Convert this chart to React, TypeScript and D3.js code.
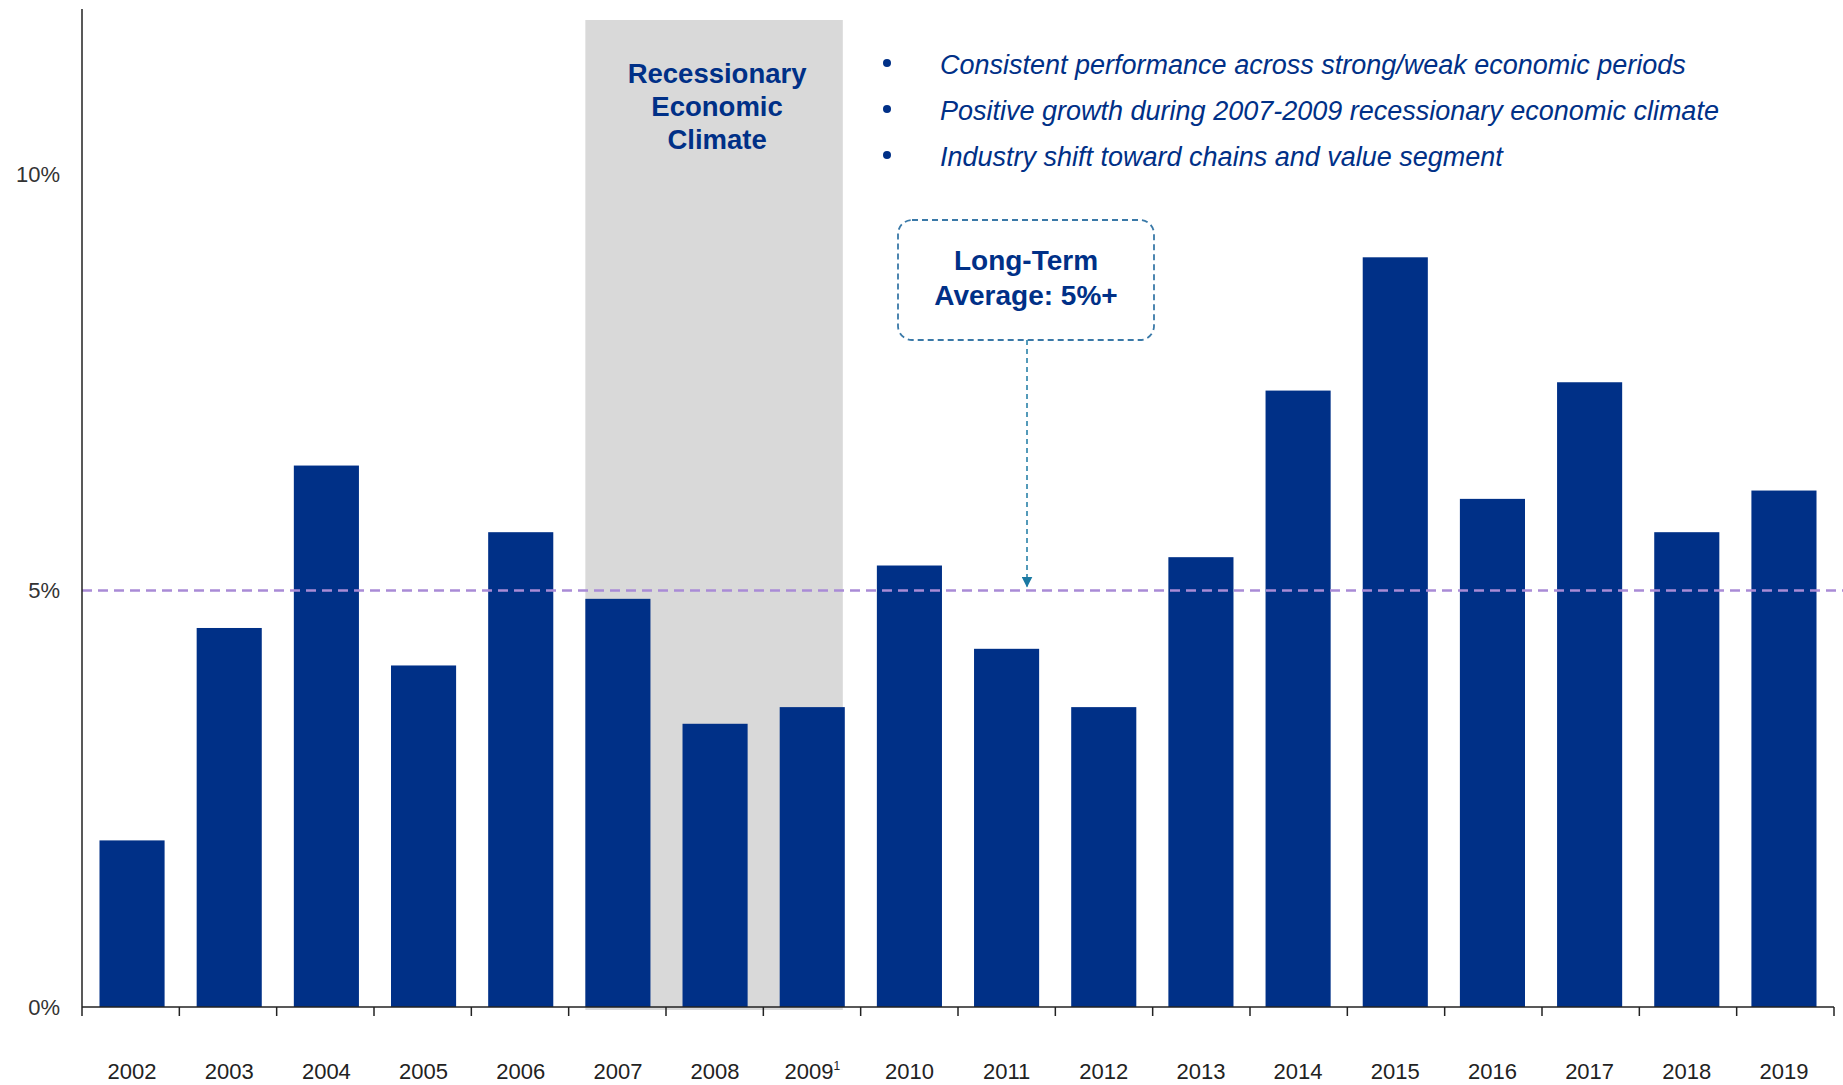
import * as d3 from "d3";

const years = [
  "2002", "2003", "2004", "2005", "2006", "2007", "2008", "2009", "2010",
  "2011", "2012", "2013", "2014", "2015", "2016", "2017", "2018", "2019",
];
const growth = [
  2.0, 4.55, 6.5, 4.1, 5.7, 4.9, 3.4, 3.6, 5.3, 4.3, 3.6, 5.4, 7.4, 9.0, 6.1,
  7.5, 5.7, 6.2,
];
const yTicks = [0, 5, 10];
const average = 5;
const recessionYears = ["2007", "2009"];
const recessionLabel = ["Recessionary", "Economic", "Climate"];
const bullets = [
  "Consistent performance across strong/weak economic periods",
  "Positive growth during 2007-2009 recessionary economic climate",
  "Industry shift toward chains and value segment",
];
const calloutLabel = ["Long-Term", "Average: 5%+"];
const footnoteYear = "2009";

const width = 1843;
const height = 1085;
const margin = { top: 9, right: 9, bottom: 78, left: 82 };

const navy = "#003087";
const narrow = "'Liberation Sans Narrow', 'Arial Narrow', 'Liberation Sans', Arial, sans-serif";
const sans = "'Liberation Sans', Arial, sans-serif";

export default function App() {
  const x = d3
    .scaleBand<string>()
    .domain(years)
    .range([margin.left, width - margin.right])
    .paddingInner(0.33)
    .paddingOuter(0.18);

  const y = d3
    .scaleLinear()
    .domain([0, 10])
    .range([height - margin.bottom, 174]);

  const data = years.map((year, i) => ({ year, value: growth[i] }));
  const step = x.step();
  const x0 = x.range()[0];
  const n = years.length;
  const boundaries = d3
    .range(n + 1)
    .map((i) => x0 + (i * (x.range()[1] - x0)) / n);

  // recession shade covers 2007 bar start to 2009 bar end
  const shadeX1 = x(recessionYears[0])!;
  const shadeX2 = x(recessionYears[1])! + x.bandwidth() - 2;
  const shadeCx = (shadeX1 + shadeX2) / 2;

  const boxX = 898;
  const boxY = 220;
  const boxW = 256;
  const boxH = 120;
  const arrowX = boxX + boxW / 2 + 1;

  return (
    <svg
      width={width}
      height={height}
      style={{ position: "absolute", left: 0, top: 0, background: "#fff" }}
    >
      <defs>
        <marker
          id="arrow"
          viewBox="0 0 10 10"
          refX="9"
          refY="5"
          markerWidth="11"
          markerHeight="11"
          orient="auto"
          markerUnits="userSpaceOnUse"
        >
          <path d="M0,0 L10,5 L0,10 Z" fill="#1b7aa3" />
        </marker>
      </defs>

      {/* recession shading */}
      <rect
        x={shadeX1}
        y={20}
        width={shadeX2 - shadeX1}
        height={y(0) + 3 - 20}
        fill="#d9d9d9"
      />
      {recessionLabel.map((t, i) => (
        <text
          key={t}
          x={shadeCx + 3}
          y={83 + i * 33}
          textAnchor="middle"
          fill={navy}
          fontFamily={sans}
          fontWeight="bold"
          fontSize={27.5}
        >
          {t}
        </text>
      ))}

      {/* bars */}
      <g fill={navy}>
        {data.map((d) => (
          <rect
            key={d.year}
            x={x(d.year)}
            y={y(d.value)}
            width={x.bandwidth()}
            height={y(0) - y(d.value)}
          />
        ))}
      </g>

      {/* long-term average line */}
      <line
        x1={margin.left}
        x2={width}
        y1={y(average)}
        y2={y(average)}
        stroke="#a98bd6"
        strokeWidth={2.5}
        strokeDasharray="10 6"
      />

      {/* y axis */}
      <line
        x1={margin.left}
        x2={margin.left}
        y1={margin.top}
        y2={y(0)}
        stroke="#222"
        strokeWidth={1.5}
      />
      {yTicks.map((t) => (
        <text
          key={t}
          x={60}
          y={y(t)}
          dy="0.35em"
          textAnchor="end"
          fill="#333"
          fontFamily={narrow}
          fontSize={22}
        >
          {t}%
        </text>
      ))}

      {/* x axis */}
      <line
        x1={margin.left}
        x2={width - margin.right}
        y1={y(0)}
        y2={y(0)}
        stroke="#222"
        strokeWidth={1.5}
      />
      {boundaries.map((b, i) => (
        <line
          key={i}
          x1={b}
          x2={b}
          y1={y(0)}
          y2={y(0) + 9}
          stroke="#222"
          strokeWidth={1.5}
        />
      ))}
      {years.map((yr) => (
        <text
          key={yr}
          x={x(yr)! + x.bandwidth() / 2 + step * 0}
          y={1079}
          textAnchor="middle"
          fill="#222"
          fontFamily={narrow}
          fontSize={22}
        >
          {yr}
          {yr === footnoteYear && (
            <tspan fontSize={12} dy={-9}>
              1
            </tspan>
          )}
        </text>
      ))}

      {/* bullets */}
      {bullets.map((b, i) => (
        <g key={b} transform={`translate(0,${65 + i * 46})`}>
          <circle cx={887} cy={-2} r={4} fill={navy} />
          <text
            x={940}
            y={0}
            dy="0.35em"
            fill={navy}
            fontFamily={sans}
            fontStyle="italic"
            fontSize={27}
          >
            {b}
          </text>
        </g>
      ))}

      {/* callout */}
      <rect
        x={boxX}
        y={boxY}
        width={boxW}
        height={boxH}
        rx={14}
        fill="#fff"
        stroke="#3a79a8"
        strokeWidth={1.8}
        strokeDasharray="6 4"
      />
      {calloutLabel.map((t, i) => (
        <text
          key={t}
          x={boxX + boxW / 2}
          y={270 + i * 35}
          textAnchor="middle"
          fill={navy}
          fontFamily={sans}
          fontWeight="bold"
          fontSize={28}
        >
          {t}
        </text>
      ))}
      <line
        x1={arrowX}
        x2={arrowX}
        y1={boxY + boxH}
        y2={y(average) - 4}
        stroke="#1b7aa3"
        strokeWidth={1.5}
        strokeDasharray="5 4"
        markerEnd="url(#arrow)"
      />
    </svg>
  );
}
